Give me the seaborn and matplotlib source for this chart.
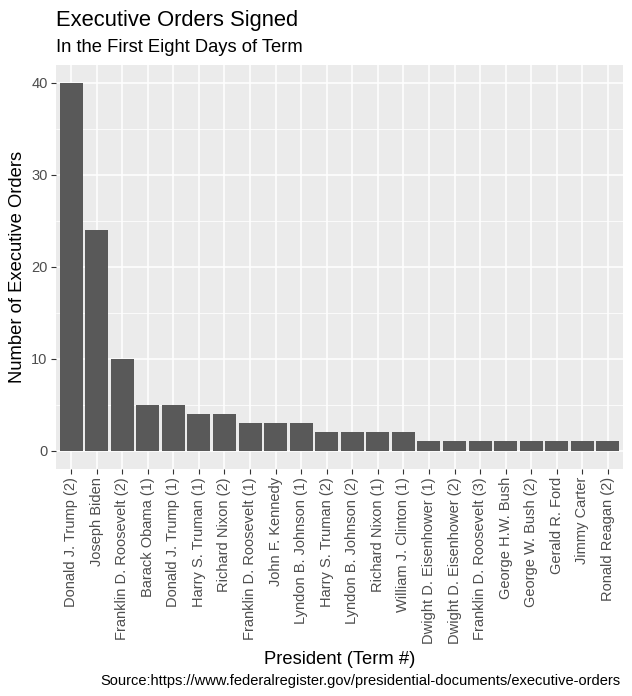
import matplotlib
matplotlib.use("Agg")
import matplotlib.pyplot as plt
import seaborn as sns
import pandas as pd
from matplotlib.ticker import MultipleLocator

presidents = ["Donald J. Trump (2)", "Joseph Biden", "Franklin D. Roosevelt (2)", "Barack Obama (1)",
              "Donald J. Trump (1)", "Harry S. Truman (1)", "Richard Nixon (2)", "Franklin D. Roosevelt (1)",
              "John F. Kennedy", "Lyndon B. Johnson (1)", "Harry S. Truman (2)", "Lyndon B. Johnson (2)",
              "Richard Nixon (1)", "William J. Clinton (1)", "Dwight D. Eisenhower (1)", "Dwight D. Eisenhower (2)",
              "Franklin D. Roosevelt (3)", "George H.W. Bush", "George W. Bush (2)", "Gerald R. Ford",
              "Jimmy Carter", "Ronald Reagan (2)"]
orders = [40, 24, 10, 5, 5, 4, 4, 3, 3, 3, 2, 2, 2, 2, 1, 1, 1, 1, 1, 1, 1, 1]

df = pd.DataFrame({"president": presidents, "orders": orders})

sns.set_theme(style="darkgrid")
plt.rcParams['font.family'] = ['Liberation Sans', 'DejaVu Sans']

W, H = 632, 696
fig = plt.figure(figsize=(W / 100, H / 100), dpi=100)
pl, pr, pt, pb = 55.8, 623.2, 64.5, 469.0
ax = fig.add_axes([pl / W, 1 - pb / H, (pr - pl) / W, (pb - pt) / H])
ax.set_facecolor("#EBEBEB")

sns.barplot(data=df, x="president", y="orders", color="#595959", saturation=1,
            width=0.9, ax=ax, zorder=3, edgecolor="none")

n = len(presidents)
ax.set_xlim(-0.6, n - 1 + 0.6)
ax.set_ylim(-2, 42)
ax.yaxis.set_major_locator(MultipleLocator(10))
ax.yaxis.set_minor_locator(MultipleLocator(5))
ax.grid(which="major", color="white", linewidth=1.1, zorder=0)
ax.grid(which="minor", axis="y", color="white", linewidth=0.55, zorder=0)
ax.set_axisbelow(True)
for s in ax.spines.values():
    s.set_visible(False)

ax.tick_params(axis="both", which="major", length=3.3, width=0.8, color="#333333",
               labelcolor="#4D4D4D", labelsize=10.56, pad=2.6, left=True, bottom=True)
ax.tick_params(axis="both", which="minor", length=0)
plt.setp(ax.get_xticklabels(), rotation=90, ha="center", va="top")

ax.set_xlabel("")
ax.set_ylabel("")

fig.text(pl / W, 1 - 26 / H, "Executive Orders Signed", fontsize=15.84, color="black",
         va="baseline", ha="left")
fig.text(pl / W, 1 - 52.3 / H, "In the First Eight Days of Term", fontsize=13.2, color="black",
         va="baseline", ha="left")
fig.text((pl + pr) / 2 / W, 1 - 664 / H, "President (Term #)", fontsize=13.2, color="black",
         va="baseline", ha="center")
fig.text(17.7 / W, 1 - (pt + pb) / 2 / H, "Number of Executive Orders", fontsize=13.2, color="black",
         va="center", ha="center", rotation=90)
fig.text(620 / W, 1 - 685.5 / H,
         "Source:https://www.federalregister.gov/presidential-documents/executive-orders",
         fontsize=10.56, color="black", va="baseline", ha="right")

fig.savefig("out.png", dpi=100)
